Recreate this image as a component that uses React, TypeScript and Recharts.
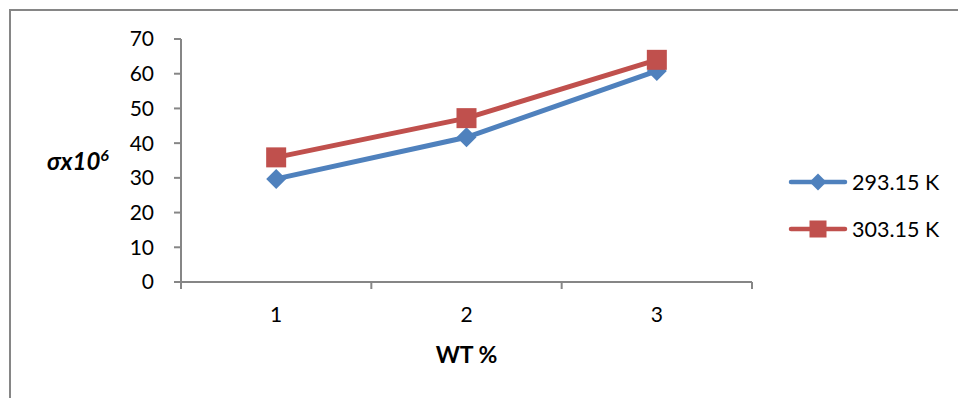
import { LineChart, Line, XAxis, YAxis } from "recharts";

const wtPercent = [1, 2, 3];
const sigma29315 = [29.7, 41.7, 60.8];
const sigma30315 = [35.9, 47.2, 64.0];
const yTicks = [0, 10, 20, 30, 40, 50, 60, 70];
const xBoundaryTicks = [0.5, 1.5, 2.5, 3.5];
const seriesNames = ["293.15 K", "303.15 K"];

const BLUE = "#4F81BD";
const RED = "#C0504D";
const AXIS = "#868686";
const FONT = "Lato, 'Open Sans', sans-serif";
const FS = 21;

const data = wtPercent.map((wt, i) => ({
  wt,
  low: sigma29315[i],
  high: sigma30315[i],
}));

const CAT_STEP = 571 / 3;

function Diamond({ cx, cy, r = 9, fill }: { cx?: number; cy?: number; r?: number; fill: string }) {
  if (cx == null || cy == null) return null;
  return (
    <polygon
      points={`${cx},${cy - r} ${cx + r},${cy} ${cx},${cy + r} ${cx - r},${cy}`}
      fill={fill}
    />
  );
}

function Square({ cx, cy, s = 18, fill }: { cx?: number; cy?: number; s?: number; fill: string }) {
  if (cx == null || cy == null) return null;
  return <rect x={cx - s / 2} y={cy - s / 2} width={s} height={s} fill={fill} />;
}

function XTick(props: any) {
  const { x, y, payload } = props;
  if (payload.value >= 3.5) return <g />;
  return (
    <text
      x={x + CAT_STEP / 2}
      y={y + 31}
      textAnchor="middle"
      fontSize={FS}
      fontFamily={FONT}
      fill="#000"
    >
      {payload.value + 0.5}
    </text>
  );
}

function LegendBox() {
  const items = [
    { label: seriesNames[0], color: BLUE, shape: "diamond" },
    { label: seriesNames[1], color: RED, shape: "square" },
  ];
  return (
    <svg width={190} height={90} style={{ position: "absolute", left: 758, top: 170 }}>
      {items.map((it, i) => {
        const cy = 12 + i * 47;
        return (
          <g key={it.label}>
            <line x1={33} y1={cy} x2={87} y2={cy} stroke={it.color} strokeWidth={4.5} strokeLinecap="round" />
            {it.shape === "diamond" ? (
              <Diamond cx={60} cy={cy} r={8.5} fill={it.color} />
            ) : (
              <Square cx={60} cy={cy} s={17} fill={it.color} />
            )}
            <text x={94} y={cy} dy="0.36em" fontSize={FS + 0.5} fontFamily={FONT} fill="#000">
              {it.label}
            </text>
          </g>
        );
      })}
    </svg>
  );
}

export default function App() {
  return (
    <div style={{ position: "absolute", left: 0, top: 0, width: 958, height: 398, background: "#fff", overflow: "hidden" }}>
      <div
        style={{
          position: "absolute",
          left: 9,
          top: 9,
          width: 1000,
          height: 500,
          borderTop: `2px solid ${AXIS}`,
          borderLeft: `2px solid ${AXIS}`,
        }}
      />
      <div style={{ position: "absolute", left: 0, top: 0 }}>
        <LineChart
          width={958}
          height={398}
          data={data}
          margin={{ top: 39, right: 206, bottom: 56, left: 121 }}
        >
          <XAxis
            dataKey="wt"
            type="number"
            domain={[0.5, 3.5]}
            ticks={xBoundaryTicks}
            interval={0}
            stroke={AXIS}
            strokeWidth={2}
            tickSize={7}
            tickLine={{ stroke: AXIS, strokeWidth: 2 }}
            tick={<XTick />}
            height={60}
            label={(p: any) => {
              const vb = p.viewBox || {};
              const cx = (vb.x ?? 181) + (vb.width ?? 571) / 2;
              return (
                <text
                  x={cx}
                  y={363}
                  textAnchor="middle"
                  fontSize={23}
                  fontWeight={700}
                  fontFamily={FONT}
                  fill="#000"
                >
                  WT %
                </text>
              );
            }}
          />
          <YAxis
            type="number"
            domain={[0, 70]}
            ticks={yTicks}
            interval={0}
            width={60}
            stroke={AXIS}
            strokeWidth={2}
            tickSize={7}
            tickMargin={20}
            tickLine={{ stroke: AXIS, strokeWidth: 2 }}
            tick={{ fontSize: FS, fontFamily: FONT, fill: "#000" }}
            label={(p: any) => {
              const vb = p.viewBox || {};
              const cy = (vb.y ?? 39) + (vb.height ?? 243) / 2;
              return (
                <text
                  x={47}
                  y={cy + 9}
                  fontSize={24}
                  fontWeight={700}
                  fontStyle="italic"
                  fontFamily={FONT}
                  fill="#000"
                >
                  σx10
                  <tspan dy={-9} fontSize={16}>6</tspan>
                </text>
              );
            }}
          />
          <Line
            type="linear"
            dataKey="low"
            name={seriesNames[0]}
            stroke={BLUE}
            strokeWidth={5}
            isAnimationActive={false}
            dot={(p: any) => <Diamond key={`d-${p.index}`} cx={p.cx} cy={p.cy} r={10} fill={BLUE} />}
            activeDot={false}
          />
          <Line
            type="linear"
            dataKey="high"
            name={seriesNames[1]}
            stroke={RED}
            strokeWidth={5}
            isAnimationActive={false}
            dot={(p: any) => <Square key={`s-${p.index}`} cx={p.cx} cy={p.cy} s={20} fill={RED} />}
            activeDot={false}
          />
        </LineChart>
      </div>
      <LegendBox />
    </div>
  );
}
